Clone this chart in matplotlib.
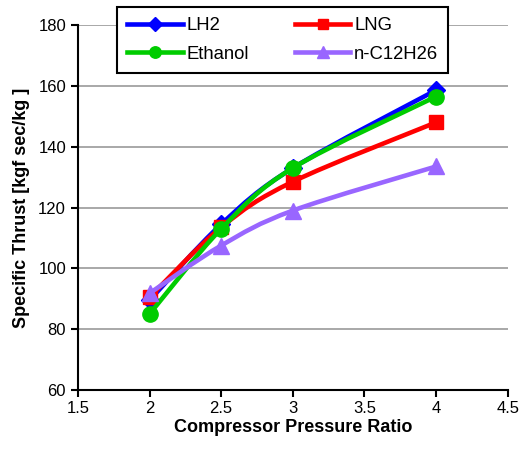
import matplotlib
matplotlib.use("Agg")
import matplotlib.pyplot as plt
from matplotlib.path import Path
from matplotlib.patches import PathPatch
from matplotlib.lines import Line2D
import numpy as np

plt.rcParams['font.family'] = ['Liberation Sans', 'DejaVu Sans']

pressure_ratio = [2, 2.5, 3, 4]
lh2 = [89.5, 114.5, 133.0, 158.6]
lng = [90.5, 113.5, 128.5, 148.0]
ethanol = [85.0, 113.0, 133.0, 156.5]
dodecane = [91.8, 107.5, 119.0, 133.5]

series = [
    ("LH2", lh2, "#0000FF", "D", 9),
    ("LNG", lng, "#FF0000", "s", 10.5),
    ("Ethanol", ethanol, "#00CC00", "o", 11),
    ("n-C12H26", dodecane, "#9966FF", "^", 11),
]

x_ticks = [1.5, 2, 2.5, 3, 3.5, 4, 4.5]
y_ticks = [60, 80, 100, 120, 140, 160, 180]

fig = plt.figure(figsize=(5.3, 4.5), dpi=100)
ax = fig.add_axes([0.147, 0.1333, 0.811, 0.811])


def smooth_path(xs, ys):
    pts = np.column_stack([xs, ys]).astype(float)
    n = len(pts)
    verts = [pts[0]]
    codes = [Path.MOVETO]
    for i in range(n - 1):
        p0 = pts[i - 1] if i > 0 else pts[i]
        p1 = pts[i]
        p2 = pts[i + 1]
        p3 = pts[i + 2] if i + 2 < n else pts[i + 1]
        c1 = p1 + (p2 - p0) / 6.0
        c2 = p2 - (p3 - p1) / 6.0
        verts += [c1, c2, p2]
        codes += [Path.CURVE4] * 3
    return Path(verts, codes)


handles = {}
for z, (name, ys, col, mk, ms) in enumerate(series):
    patch = PathPatch(smooth_path(pressure_ratio, ys), facecolor='none',
                      edgecolor=col, lw=3.3, zorder=3 + z, capstyle='round',
                      joinstyle='round')
    ax.add_patch(patch)
    ax.plot(pressure_ratio, ys, linestyle='none', marker=mk, color=col,
            markersize=ms, zorder=3 + z)
    handles[name] = Line2D([], [], color=col, lw=3.3, marker=mk, markersize=ms * 0.75)

ax.set_xlim(1.5, 4.5)
ax.set_ylim(60, 180)
ax.set_xticks(x_ticks)
ax.set_xticklabels([f"{v:g}" for v in x_ticks])
ax.set_yticks(y_ticks)
ax.yaxis.grid(True, color='#999999', lw=1.2)
ax.set_axisbelow(True)
for s in ['top', 'right']:
    ax.spines[s].set_visible(False)
for s in ['left', 'bottom']:
    ax.spines[s].set_linewidth(1.5)
    ax.spines[s].set_color('black')
ax.tick_params(axis='both', direction='out', length=5, width=1.5,
               labelsize=12, colors='black')
ax.tick_params(axis='x', pad=3)
ax.set_xlabel("Compressor Pressure Ratio", fontsize=13, fontweight='bold', labelpad=2)
ax.set_ylabel("Specific Thrust [kgf sec/kg ]", fontsize=13, fontweight='bold', labelpad=6)

order = ["LH2", "Ethanol", "LNG", "n-C12H26"]
leg = fig.legend([handles[k] for k in order], order, loc='upper left',
                 bbox_to_anchor=(0.221, 0.984), ncol=2, fontsize=13.3,
                 handlelength=3.0, handletextpad=0.2, columnspacing=2.5,
                 frameon=True, fancybox=False, borderpad=0.55, labelspacing=0.62,
                 borderaxespad=0)
leg.get_frame().set_edgecolor('black')
leg.get_frame().set_linewidth(1.5)
leg.get_frame().set_alpha(1)
leg.set_zorder(20)

fig.savefig("out.png", dpi=100)
